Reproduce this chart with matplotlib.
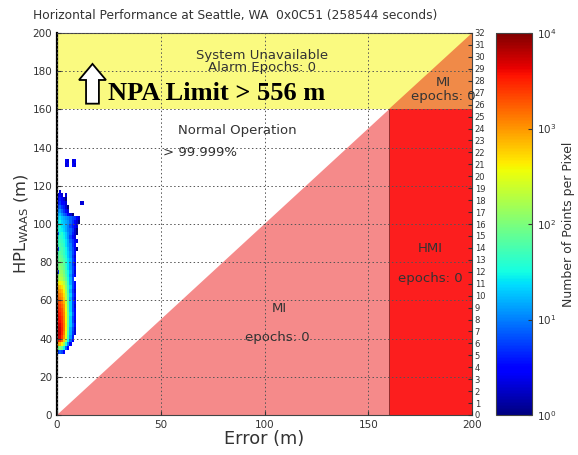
import numpy as np
import matplotlib
matplotlib.use("Agg")
import matplotlib.pyplot as plt
from matplotlib.colors import LogNorm
from matplotlib.patches import Polygon, Rectangle

plt.rcParams['font.family'] = ['DejaVu Sans']

# ---------------- data ----------------
title = "Horizontal Performance at Seattle, WA  0x0C51 (258544 seconds)"
x_ticks = [0, 50, 100, 150, 200]
y_ticks = [0, 20, 40, 60, 80, 100, 120, 140, 160, 180, 200]
right_ticks = list(range(0, 33))
alarm_limit = 160          # region boundary (m)
axis_max = 200
cbar_ticks = [1, 10, 100, 1000, 10000]
cbar_labels = [r"$10^0$", r"$10^1$", r"$10^2$", r"$10^3$", r"$10^4$"]

# 2-D histogram: error bins of 1 m (0..13), HPL bins of 2 m (32..136)
error_edges = np.arange(0, 14, 1)
hpl_edges = np.arange(32, 138, 2)
# rows listed from the top (HPL 134) down to the bottom (HPL 32)
counts_top_down = [
    [0, 0, 0, 0, 0, 0, 0, 0, 0, 0, 0, 0, 0],          # 134
    [0, 0, 0, 0, 3, 2, 0, 2, 3, 0, 0, 0, 0],          # 132
    [0, 0, 0, 0, 2, 3, 0, 3, 2, 0, 0, 0, 0],          # 130
    [0, 0, 0, 0, 0, 0, 0, 0, 0, 0, 0, 0, 0],          # 128
    [0, 0, 0, 0, 0, 0, 0, 0, 0, 0, 0, 0, 0],          # 126
    [0, 0, 0, 0, 0, 0, 0, 0, 0, 0, 0, 0, 0],          # 124
    [0, 0, 0, 0, 0, 0, 0, 0, 0, 0, 0, 0, 0],          # 122
    [0, 0, 0, 0, 0, 0, 0, 0, 0, 0, 0, 0, 0],          # 120
    [0, 0, 0, 0, 0, 0, 0, 0, 0, 0, 0, 0, 0],          # 118
    [0, 2, 0, 0, 0, 0, 0, 0, 0, 0, 0, 0, 0],          # 116
    [2, 3, 2, 0, 2, 0, 0, 0, 0, 0, 0, 0, 0],          # 114
    [3, 4, 3, 2, 1, 0, 0, 0, 0, 0, 0, 0, 0],          # 112
    [4, 5, 3, 3, 2, 0, 0, 0, 0, 0, 0, 2, 2],          # 110
    [6, 8, 5, 4, 2, 1, 0, 0, 0, 0, 0, 0, 0],          # 108
    [10, 12, 8, 5, 3, 2, 0, 0, 0, 0, 0, 0, 0],        # 106
    [15, 18, 12, 8, 6, 3, 2, 1, 0, 0, 0, 0, 0],       # 104
    [20, 25, 18, 15, 12, 10, 8, 6, 5, 3, 2, 0, 0],    # 102
    [25, 30, 22, 18, 15, 12, 8, 5, 3, 2, 1, 0, 0],    # 100
    [30, 35, 25, 20, 15, 10, 6, 4, 3, 2, 0, 0, 0],    # 98
    [35, 30, 28, 22, 15, 10, 8, 5, 2, 1, 0, 0, 0],    # 96
    [8, 35, 40, 28, 20, 12, 8, 4, 2, 1, 0, 0, 0],     # 94
    [30, 45, 40, 30, 20, 12, 6, 3, 2, 0, 0, 0, 0],    # 92
    [40, 50, 45, 35, 25, 15, 8, 5, 3, 2, 0, 0, 0],    # 90
    [45, 60, 50, 40, 25, 15, 10, 5, 3, 0, 0, 0, 0],   # 88
    [6, 55, 60, 45, 30, 18, 10, 6, 3, 1, 0, 0, 0],    # 86
    [50, 70, 60, 45, 30, 20, 12, 6, 3, 0, 0, 0, 0],   # 84
    [60, 80, 70, 50, 35, 20, 12, 5, 2, 0, 0, 0, 0],   # 82
    [70, 90, 80, 60, 40, 25, 15, 6, 3, 0, 0, 0, 0],   # 80
    [80, 100, 90, 70, 40, 25, 12, 5, 2, 0, 0, 0, 0],  # 78
    [90, 120, 100, 80, 45, 25, 12, 6, 3, 0, 0, 0, 0], # 76
    [5, 140, 130, 90, 50, 30, 15, 6, 2, 0, 0, 0, 0],  # 74
    [120, 160, 150, 100, 60, 30, 12, 5, 3, 0, 0, 0, 0],     # 72
    [150, 200, 180, 120, 70, 35, 15, 6, 0, 0, 0, 0, 0],     # 70
    [400, 400, 300, 200, 100, 40, 15, 6, 3, 0, 0, 0, 0],    # 68
    [700, 650, 500, 300, 120, 50, 20, 6, 3, 0, 0, 0, 0],    # 66
    [1000, 900, 700, 400, 150, 50, 15, 5, 2, 0, 0, 0, 0],   # 64
    [1300, 1200, 900, 500, 180, 60, 20, 6, 3, 0, 0, 0, 0],  # 62
    [1600, 1400, 1100, 600, 200, 60, 15, 5, 2, 0, 0, 0, 0], # 60
    [2000, 1800, 1300, 800, 250, 70, 20, 6, 3, 0, 0, 0, 0], # 58
    [2600, 2300, 1600, 1000, 300, 80, 20, 6, 2, 0, 0, 0, 0],    # 56
    [3000, 2700, 2000, 1100, 350, 80, 20, 6, 3, 0, 0, 0, 0],    # 54
    [3500, 3200, 2200, 1200, 400, 90, 25, 8, 3, 0, 0, 0, 0],    # 52
    [4000, 3600, 2500, 1300, 400, 90, 20, 6, 3, 0, 0, 0, 0],    # 50
    [3600, 4000, 2700, 1400, 400, 80, 20, 6, 2, 0, 0, 0, 0],    # 48
    [4500, 5000, 3000, 1500, 450, 80, 20, 8, 3, 0, 0, 0, 0],    # 46
    [5000, 5500, 3200, 1500, 400, 70, 15, 6, 2, 0, 0, 0, 0],    # 44
    [5500, 6000, 3000, 1300, 350, 60, 15, 5, 2, 0, 0, 0, 0],    # 42
    [5000, 5000, 2500, 1000, 300, 50, 12, 4, 0, 0, 0, 0, 0],    # 40
    [3000, 2500, 1500, 600, 150, 30, 8, 3, 0, 0, 0, 0, 0],      # 38
    [800, 700, 400, 150, 40, 10, 3, 0, 0, 0, 0, 0, 0],          # 36
    [80, 100, 80, 30, 8, 3, 0, 0, 0, 0, 0, 0, 0],               # 34
    [5, 8, 6, 3, 0, 0, 0, 0, 0, 0, 0, 0, 0],                    # 32
]

# region colours
c_unavail = "#fafa80"
c_mi_top = "#f08a48"
c_mi = "#f58a8a"
c_hmi = "#fc1e1e"

# ---------------- figure ----------------
W, H = 578, 455
fig = plt.figure(figsize=(W / 100, H / 100), dpi=100)
ax = fig.add_axes([57 / W, 40 / H, 415 / W, 382 / H])
L, M = alarm_limit, axis_max

# regions
ax.add_patch(Rectangle((0, L), M, M - L, facecolor=c_unavail, edgecolor='none', zorder=0))
ax.add_patch(Polygon([(L, L), (M, L), (M, M)], closed=True, facecolor=c_mi_top, edgecolor='none', zorder=0.5))
ax.add_patch(Polygon([(0, 0), (L, L), (L, 0)], closed=True, facecolor=c_mi, edgecolor='none', zorder=0))
ax.add_patch(Rectangle((L, 0), M - L, L, facecolor=c_hmi, edgecolor='none', zorder=0))
ax.plot([L, L], [0, L], color='#803030', lw=0.6, zorder=1)

# histogram
counts = np.array(counts_top_down[::-1], dtype=float)
counts = np.ma.masked_where(counts <= 0, counts)
norm = LogNorm(vmin=cbar_ticks[0], vmax=cbar_ticks[-1])
mesh = ax.pcolormesh(error_edges, hpl_edges, counts, cmap='jet', norm=norm, zorder=2)

ax.set_xlim(0, M)
ax.set_ylim(0, M)
ax.set_xticks(x_ticks)
ax.set_yticks(y_ticks)
ax.tick_params(direction='in', labelsize=7.5, colors='#333333', length=3)
ax.grid(True, color='#555555', linestyle=(0, (1.5, 2.5)), linewidth=0.7)
ax.set_axisbelow(False)
for s in ax.spines.values():
    s.set_color('#444444')
    s.set_linewidth(0.8)
ax.spines['left'].set_color('black')
ax.spines['left'].set_linewidth(1.6)
ax.set_xlabel("Error (m)", fontsize=12.8, color='#333333', labelpad=0)
ax.set_ylabel(r"HPL$_{\mathrm{WAAS}}$ (m)", fontsize=11.8, color='#333333', labelpad=1)

# text annotations
tc = '#333333'
fs = 9.5
ax.text(99, 188, "System Unavailable", ha='center', va='center', fontsize=fs, color=tc, zorder=3)
ax.text(99, 182, "Alarm Epochs: 0", ha='center', va='center', fontsize=fs, color=tc, zorder=3)
ax.text(186, 174, "MI", ha='center', va='center', fontsize=fs, color=tc, zorder=3)
ax.text(186, 166.5, "epochs: 0", ha='center', va='center', fontsize=fs, color=tc, zorder=3)
ax.text(87, 149, "Normal Operation", ha='center', va='center', fontsize=fs, color=tc, zorder=3)
ax.text(51, 137.5, "> 99.999%", ha='left', va='center', fontsize=fs, color=tc, zorder=3)
ax.text(180, 87, "HMI", ha='center', va='center', fontsize=fs, color=tc, zorder=3)
ax.text(180, 71.5, "epochs: 0", ha='center', va='center', fontsize=fs, color=tc, zorder=3)
ax.text(107, 56, "MI", ha='center', va='center', fontsize=fs, color=tc, zorder=3)
ax.text(106, 40.5, "epochs: 0", ha='center', va='center', fontsize=fs, color=tc, zorder=3)

# NPA limit annotation with hollow up arrow
ax.add_patch(Polygon([(14.0, 163), (20.2, 163), (20.2, 175.4), (23.6, 175.4),
                      (17.1, 183.8), (10.6, 175.4), (14.0, 175.4)], closed=True,
                     facecolor='white', edgecolor='black', lw=1.3, zorder=4))
ax.text(24.5, 168.5, "NPA Limit > 556 m", ha='left', va='center', fontsize=19,
        fontweight='bold', family=['Liberation Serif', 'DejaVu Serif'], color='black', zorder=4)

# right axis 0..32
ax2 = ax.twinx()
ax2.set_ylim(0, 32)
ax2.set_yticks(right_ticks)
ax2.tick_params(direction='in', labelsize=6, colors='#333333', length=3, pad=2)
for s in ax2.spines.values():
    s.set_visible(False)

# colorbar
cax = fig.add_axes([496 / W, 40 / H, 36 / W, 382 / H])
cb = fig.colorbar(mesh, cax=cax)
cb.set_ticks(cbar_ticks)
cb.set_ticklabels(cbar_labels)
cb.ax.tick_params(direction='in', labelsize=7.5, colors='#333333', length=3)
cb.ax.minorticks_off()
cb.set_label("Number of Points per Pixel", fontsize=9, color='#333333', labelpad=4)
cb.outline.set_edgecolor('#444444')

fig.text(235 / W, 1 - 15 / H, title, ha='center', va='center', fontsize=8.8, color='#333333')

fig.savefig("out.png", dpi=100)
